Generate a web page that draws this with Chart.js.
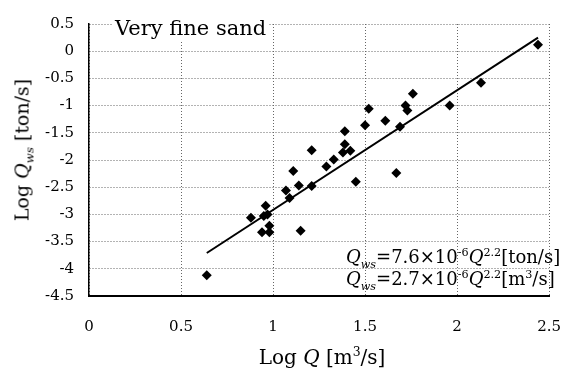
<!DOCTYPE html>
<html>
<head>
<meta charset="utf-8">
<script src="https://cdn.jsdelivr.net/npm/chart.js@4"></script>
<style>
  body { margin: 0; background: #fff; }
  #wrap { position: relative; width: 583px; height: 374px; font-family: "DejaVu Serif", serif; color: #000; }
  .lbl { position: absolute; white-space: nowrap; line-height: 1; }
  sub, sup { font-size: 62%; line-height: 0; }
  #ytitle { left: 22px; top: 150px; font-size: 19px; transform: translate(-50%, -50%) rotate(-90deg); }
  #xtitle { left: 322px; top: 357px; font-size: 20px; transform: translate(-50%, -50%); }
  #tag { left: 113px; top: 18px; font-size: 21px; background: #fff; padding: 0 2px 3px 2px; }
  .eq { left: 346px; font-size: 18px; }
</style>
</head>
<body>
<div id="wrap">
  <canvas id="chart" width="583" height="374"></canvas>
  <div class="lbl" id="ytitle">Log <i>Q</i><sub><i>ws</i></sub> [ton/s]</div>
  <div class="lbl" id="xtitle">Log <i>Q</i> [m<sup>3</sup>/s]</div>
  <div class="lbl" id="tag">Very fine sand</div>
  <div class="lbl eq" style="top:248px"><i>Q</i><sub><i>ws</i></sub>=7.6×10<sup>-6</sup><i>Q</i><sup>2.2</sup>[ton/s]</div>
  <div class="lbl eq" style="top:270px"><i>Q</i><sub><i>ws</i></sub>=2.7×10<sup>-6</sup><i>Q</i><sup>2.2</sup>[m<sup>3</sup>/s]</div>
</div>
<script>
// measured points, log Q vs log Qws
const logQ = [0.64, 0.88, 0.96, 0.95, 0.97, 0.98, 0.94, 0.98, 1.15, 1.07, 1.09,
  1.11, 1.14, 1.21, 1.21, 1.29, 1.33, 1.38, 1.42, 1.39, 1.39, 1.50, 1.52, 1.45,
  1.61, 1.67, 1.69, 1.72, 1.73, 1.76, 1.96, 2.13, 2.44];
const logQws = [-4.12, -3.06, -2.84, -3.03, -3.00, -3.21, -3.33, -3.33, -3.30, -2.56, -2.70,
  -2.20, -2.47, -2.48, -1.82, -2.12, -1.99, -1.86, -1.83, -1.71, -1.47, -1.36, -1.06, -2.40,
  -1.28, -2.24, -1.39, -1.00, -1.09, -0.78, -1.00, -0.58, 0.12];

// fitted line end points
const fitQ = [0.64, 2.44];
const fitQws = [-3.71, 0.25];

const xTickLabels = ['0', '0.5', '1', '1.5', '2', '2.5'];
const yTickLabels = ['-4.5', '-4', '-3.5', '-3', '-2.5', '-2', '-1.5', '-1', '-0.5', '0', '0.5'];

const tickFont = { family: 'DejaVu Serif', size: 15 };

new Chart(document.getElementById('chart'), {
  type: 'scatter',
  data: {
    datasets: [{
      data: logQ.map((x, i) => ({ x: x, y: logQws[i] })),
      pointStyle: 'rectRot',
      pointRadius: 5,
      backgroundColor: '#000',
      borderColor: '#000',
      borderWidth: 0
    }, {
      type: 'line',
      data: fitQ.map((x, i) => ({ x: x, y: fitQws[i] })),
      borderColor: '#000',
      borderWidth: 2,
      pointRadius: 0,
      fill: false
    }]
  },
  options: {
    responsive: false,
    animation: false,
    layout: { padding: { top: 14, right: 25, left: 0, bottom: 0 } },
    plugins: { legend: { display: false }, tooltip: { enabled: false } },
    scales: {
      x: {
        type: 'linear', min: 0, max: 2.5,
        afterFit: s => { s.height = 78; },
        ticks: { stepSize: 0.5, padding: 22, color: '#000', font: tickFont,
          callback: (v, i) => xTickLabels[i] },
        grid: { color: '#666', lineWidth: 1, drawTicks: false },
        border: { color: '#000', width: 2, dash: [1, 2] }
      },
      y: {
        type: 'linear', min: -4.5, max: 0.5,
        afterFit: s => { s.width = 89; },
        ticks: { stepSize: 0.5, padding: 15, color: '#000', font: tickFont,
          callback: (v, i) => yTickLabels[i] },
        grid: { color: '#666', lineWidth: 1, drawTicks: false },
        border: { color: '#000', width: 1.5, dash: [1, 2] }
      }
    }
  }
});
</script>
</body>
</html>
